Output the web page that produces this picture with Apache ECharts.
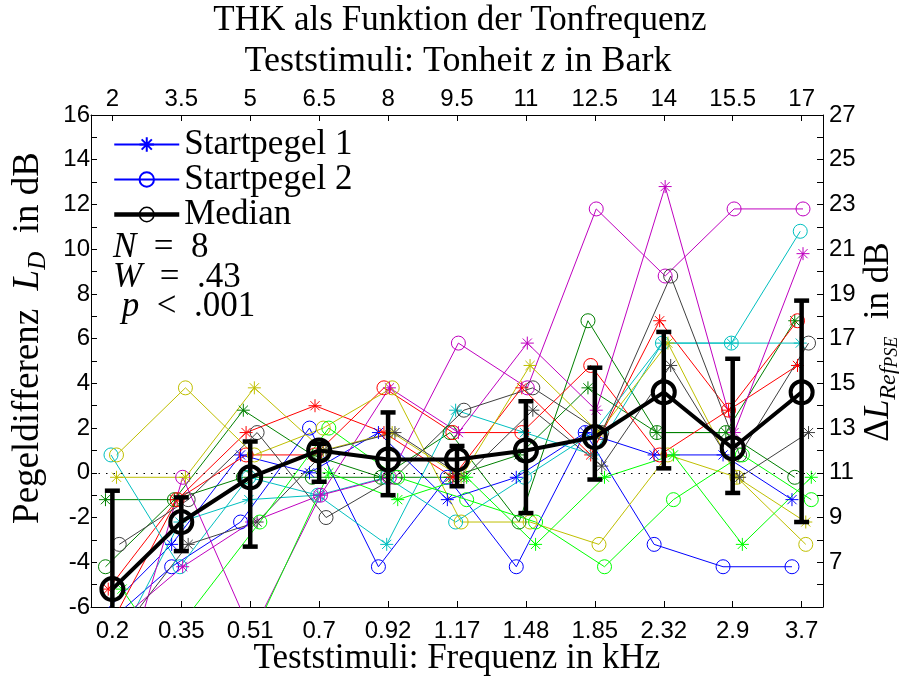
<!DOCTYPE html>
<html>
<head>
<meta charset="utf-8">
<script src="https://cdn.jsdelivr.net/npm/echarts@6/dist/echarts.min.js"></script>
<style>
  html, body { margin: 0; padding: 0; background: #ffffff; }
  #chart { width: 899px; height: 678px; }
</style>
</head>
<body>
<div id="chart"></div>
<script>
// Test stimuli: frequency (bottom axis) and tone height (top axis)
const freqLabels = ['0.2', '0.35', '0.51', '0.7', '0.92', '1.17', '1.48', '1.85', '2.32', '2.9', '3.7'];
const barkLabels = ['2', '3.5', '5', '6.5', '8', '9.5', '11', '12.5', '14', '15.5', '17'];

// Level differences L_D in dB per subject, start level 1
const subj1Start1 = [-6.3, -3.2, 0.8, 0.0, 1.8, -1.2, -0.2, 1.8, 0.8, 0.8, -1.2];
const subj2Start1 = [-1.2, -1.2, 2.8, 0.8, -0.2, -0.2, 0.8, 3.8, 1.8, 1.8, 6.8];
const subj3Start1 = [-5.2, -1.2, 1.8, 3.0, 1.8, -0.2, 3.8, 0.8, 6.8, 2.8, 4.8];
const subj4Start1 = [-8.2, -2.2, -1.2, -1.0, -3.2, 2.8, 1.8, 0.8, 5.8, 5.8, 5.8];
const subj5Start1 = [-6.8, -4.2, -2.2, -1.0, 3.8, 1.8, 5.8, 2.8, 12.8, 1.8, 9.8];
const subj6Start1 = [-0.2, -0.2, 3.8, 1.0, 1.8, -0.2, 4.8, 1.8, 5.8, -0.2, -2.2];
const subj7Start1 = [-7.2, -3.2, -2.2, 1.0, 1.8, -0.2, 2.8, 0.3, 4.8, -0.2, 1.8];
const subj8Start1 = [-5.2, -9.7, -6.6, 0.0, -1.2, -0.2, -3.2, -0.2, 0.8, -3.2, -0.2];

// Level differences L_D in dB per subject, start level 2
const subj1Start2 = [-6.9, -4.2, -2.2, 2.0, -4.2, -0.2, -4.2, 1.8, -3.2, -4.2, -4.2];
const subj2Start2 = [-4.2, -1.2, -0.2, -0.2, -0.2, 1.8, -2.2, 6.8, 1.8, 1.8, -0.2];
const subj3Start2 = [-7.0, -1.2, 0.8, 0.8, 3.8, 1.8, 1.8, 4.8, 0.8, 2.8, 6.8];
const subj4Start2 = [0.8, -4.2, -0.2, -1.0, -0.2, -2.2, -0.2, 1.8, 5.8, 5.8, 10.8];
const subj5Start2 = [-10.8, -0.2, -7.2, -1.0, -0.2, 5.8, 3.8, 11.8, 8.8, 11.8, 11.8];
const subj6Start2 = [0.8, 3.8, 0.8, 2.0, 3.8, -2.2, -2.2, -3.2, 0.8, -0.2, -3.2];
const subj7Start2 = [-3.2, -1.2, 1.8, -2.0, -0.2, 2.8, 3.8, 1.8, 8.8, 0.8, 5.8];
const subj8Start2 = [-8.2, -6.2, -2.2, 2.0, -0.2, -1.2, -2.2, -4.2, -1.2, 0.8, -1.2];

// Median over subjects and its error range
const medianValues = [-5.2, -2.2, -0.2, 1.0, 0.6, 0.6, 1.0, 1.6, 3.6, 1.1, 3.6];
const errorLow  = [-7.5, -3.5, -3.3, -0.4, -1.0, -0.6, -1.8, -0.3, 0.2, -0.9, -2.2];
const errorHigh = [-0.8, -1.1, 1.4, 1.3, 2.7, 1.2, 3.2, 4.7, 6.3, 5.1, 7.7];

// Axis ranges and tick values
const leftTicks = [-6, -5, -4, -3, -2, -1, 0, 1, 2, 3, 4, 5, 6, 7, 8, 9, 10, 11, 12, 13, 14, 15, 16];
const leftLabels = [-6, -4, -2, 0, 2, 4, 6, 8, 10, 12, 14, 16];
const rightTicks = [6, 7, 8, 9, 10, 11, 12, 13, 14, 15, 16, 17, 18, 19, 20, 21, 22, 23, 24, 25, 26, 27];
const rightLabels = [7, 9, 11, 13, 15, 17, 19, 21, 23, 25, 27];

const statLines = ['{i|N}  =  8', '{i|W}  =  .43', ' {i|p}  <  .001'];

const start1 = [subj1Start1, subj2Start1, subj3Start1, subj4Start1, subj5Start1, subj6Start1, subj7Start1, subj8Start1];
const start2 = [subj1Start2, subj2Start2, subj3Start2, subj4Start2, subj5Start2, subj6Start2, subj7Start2, subj8Start2];
const subjectColors = ['#0000ff', '#008000', '#ff0000', '#00bfbf', '#bf00bf', '#bfbf00', '#404040', '#00ff00'];

const Y_MIN = -6, Y_MAX = 16;
const X_MIN = 0.69, X_MAX = 11.31;
const SERIF = '"Liberation Serif", "DejaVu Serif", serif';
const SANS = '"Liberation Sans", Arial, sans-serif';

// eight-armed asterisk marker drawn as strokes
const asterisk = 'path://M0,10L20,10M10,0L10,20M2.93,2.93L17.07,17.07M17.07,2.93L2.93,17.07';

const series = [];
const catIndex = freqLabels.map((_, j) => j + 1);

function subjectSeries(values, name, color, offset, marker, size) {
  return {
    type: 'line',
    name: name,
    data: values.map((v, j) => [catIndex[j] + offset, v]),
    symbol: marker,
    symbolSize: size,
    clip: true,
    silent: true,
    animation: false,
    lineStyle: { color: color, width: 1 },
    itemStyle: { color: 'transparent', borderColor: color, borderWidth: 1 },
    emphasis: { disabled: true },
    z: 2
  };
}

for (let i = 0; i < start1.length; i++) {
  const off = (i - 3.5) * 0.04; // small horizontal shift per subject
  series.push(subjectSeries(start1[i], 'Startpegel 1', subjectColors[i], off, asterisk, 13));
  series.push(subjectSeries(start2[i], 'Startpegel 2', subjectColors[i], off, 'circle', 14));
}

// reference line at 0 dB
series[0].markLine = {
  silent: true,
  symbol: 'none',
  label: { show: false },
  animation: false,
  lineStyle: { color: '#000', width: 1.2, type: [1.5, 6] },
  data: [{ yAxis: 0 }]
};

series.push({
  type: 'custom',
  name: 'Fehlerbalken',
  data: errorLow.map((lo, j) => [catIndex[j], lo, errorHigh[j]]),
  encode: { x: 0, y: [1, 2] },
  silent: true,
  animation: false,
  z: 4,
  renderItem: function (params, api) {
    const x = api.value(0);
    const loRaw = api.value(1), hiRaw = api.value(2);
    const lo = Math.max(loRaw, Y_MIN), hi = Math.min(hiRaw, Y_MAX);
    const pTop = api.coord([x, hi]);
    const pBot = api.coord([x, lo]);
    const half = 7.5;
    const style = { stroke: '#000', lineWidth: 4.5 };
    const children = [{ type: 'line', shape: { x1: pTop[0], y1: pTop[1], x2: pBot[0], y2: pBot[1] }, style: style }];
    if (hiRaw <= Y_MAX) children.push({ type: 'line', shape: { x1: pTop[0] - half, y1: pTop[1], x2: pTop[0] + half, y2: pTop[1] }, style: style });
    if (loRaw >= Y_MIN) children.push({ type: 'line', shape: { x1: pBot[0] - half, y1: pBot[1], x2: pBot[0] + half, y2: pBot[1] }, style: style });
    return { type: 'group', children: children };
  }
});

series.push({
  type: 'line',
  name: 'Median',
  data: medianValues.map((v, j) => [catIndex[j], v]),
  symbol: 'circle',
  symbolSize: 22,
  silent: true,
  animation: false,
  lineStyle: { color: '#000', width: 4 },
  itemStyle: { color: 'transparent', borderColor: '#000', borderWidth: 4 },
  emphasis: { disabled: true },
  z: 5
});

const axisLineStyle = { color: '#000', width: 1 };

const option = {
  animation: false,
  backgroundColor: '#ffffff',
  grid: { left: 91, right: 76, top: 115, bottom: 71, containLabel: false },
  xAxis: [
    {
      type: 'value', position: 'bottom', min: X_MIN, max: X_MAX,
      axisLine: { show: true, onZero: false, lineStyle: axisLineStyle },
      axisTick: { show: true, inside: true, length: 6, lineStyle: axisLineStyle, customValues: catIndex },
      axisLabel: { show: true, margin: 12, customValues: catIndex, color: '#000', fontFamily: SANS, fontSize: 24,
        formatter: v => freqLabels[Math.round(v) - 1] },
      splitLine: { show: false }
    },
    {
      type: 'value', position: 'top', min: X_MIN, max: X_MAX,
      axisLine: { show: true, onZero: false, lineStyle: axisLineStyle },
      axisTick: { show: true, inside: true, length: 6, lineStyle: axisLineStyle, customValues: catIndex },
      axisLabel: { show: true, margin: 4, customValues: catIndex, color: '#000', fontFamily: SANS, fontSize: 24,
        formatter: v => barkLabels[Math.round(v) - 1] },
      splitLine: { show: false }
    }
  ],
  yAxis: [
    {
      type: 'value', position: 'left', min: Y_MIN, max: Y_MAX,
      axisLine: { show: true, onZero: false, lineStyle: axisLineStyle },
      axisTick: { show: true, inside: true, length: 6, lineStyle: axisLineStyle, customValues: leftTicks },
      axisLabel: { show: true, margin: 1, customValues: leftLabels, color: '#000', fontFamily: SANS, fontSize: 24 },
      splitLine: { show: false }
    },
    {
      type: 'value', position: 'right', min: 5, max: 27,
      axisLine: { show: true, onZero: false, lineStyle: axisLineStyle },
      axisTick: { show: true, inside: true, length: 6, lineStyle: axisLineStyle, customValues: rightTicks },
      axisLabel: { show: true, margin: 6, customValues: rightLabels, color: '#000', fontFamily: SANS, fontSize: 24 },
      splitLine: { show: false }
    }
  ],
  legend: {
    orient: 'vertical',
    left: 112,
    top: 127,
    padding: 0,
    itemWidth: 65,
    itemHeight: 18,
    itemGap: 0,
    selectedMode: false,
    textStyle: { fontFamily: SERIF, fontSize: 35, color: '#000', lineHeight: 33.5 },
    data: [
      { name: 'Startpegel 1' },
      { name: 'Startpegel 2' },
      { name: 'Median', itemStyle: { borderWidth: 1.5 }, lineStyle: { width: 4.5, color: '#000' } }
    ]
  },
  graphic: [
    { type: 'text', x: 460, y: 21, style: { text: 'THK als Funktion der Tonfrequenz', font: '35px ' + SERIF, fill: '#000', align: 'center', verticalAlign: 'middle' } },
    { type: 'text', x: 458, y: 62, style: { text: 'Teststimuli: Tonheit {i|z} in Bark', font: '36px ' + SERIF, fill: '#000', align: 'center', verticalAlign: 'middle',
        rich: { i: { fontFamily: SERIF, fontSize: 36, fontStyle: 'italic' } } } },
    { type: 'text', x: 457, y: 659, style: { text: 'Teststimuli: Frequenz in kHz', font: '35px ' + SERIF, fill: '#000', align: 'center', verticalAlign: 'middle' } },
    { type: 'text', x: 28, y: 338, rotation: Math.PI / 2, style: {
        text: '{n|Pegeldifferenz  }{i|L}{s|D}{n|  in dB}', align: 'center', verticalAlign: 'middle', fill: '#000',
        rich: {
          n: { fontFamily: SERIF, fontSize: 37, lineHeight: 46, verticalAlign: 'middle' },
          i: { fontFamily: SERIF, fontSize: 37, fontStyle: 'italic', lineHeight: 46, verticalAlign: 'middle' },
          s: { fontFamily: SERIF, fontSize: 25, fontStyle: 'italic', lineHeight: 23, verticalAlign: 'bottom' }
        } } },
    { type: 'text', x: 879, y: 342, rotation: Math.PI / 2, style: {
        text: '{n|\u0394}{i|L}{s|Ref}{ss|PSE}{n|  in dB}', align: 'center', verticalAlign: 'middle', fill: '#000',
        rich: {
          n: { fontFamily: SERIF, fontSize: 35, lineHeight: 44, verticalAlign: 'middle' },
          i: { fontFamily: SERIF, fontSize: 35, fontStyle: 'italic', lineHeight: 44, verticalAlign: 'middle' },
          s: { fontFamily: SERIF, fontSize: 24, fontStyle: 'italic', lineHeight: 22, verticalAlign: 'bottom' },
          ss: { fontFamily: SERIF, fontSize: 18, fontStyle: 'italic', lineHeight: 12, verticalAlign: 'bottom' }
        } } },
    ...statLines.map((t, k) => ({ type: 'text', x: 113, y: 248 + k * 29.5, style: {
        text: t, font: '35px ' + SERIF, fill: '#000', align: 'left', verticalAlign: 'middle',
        rich: { i: { fontFamily: SERIF, fontSize: 35, fontStyle: 'italic' } } } }))
  ],
  series: series
};

const chart = echarts.init(document.getElementById('chart'), null, { renderer: 'canvas' });
chart.setOption(option);
</script>
</body>
</html>
